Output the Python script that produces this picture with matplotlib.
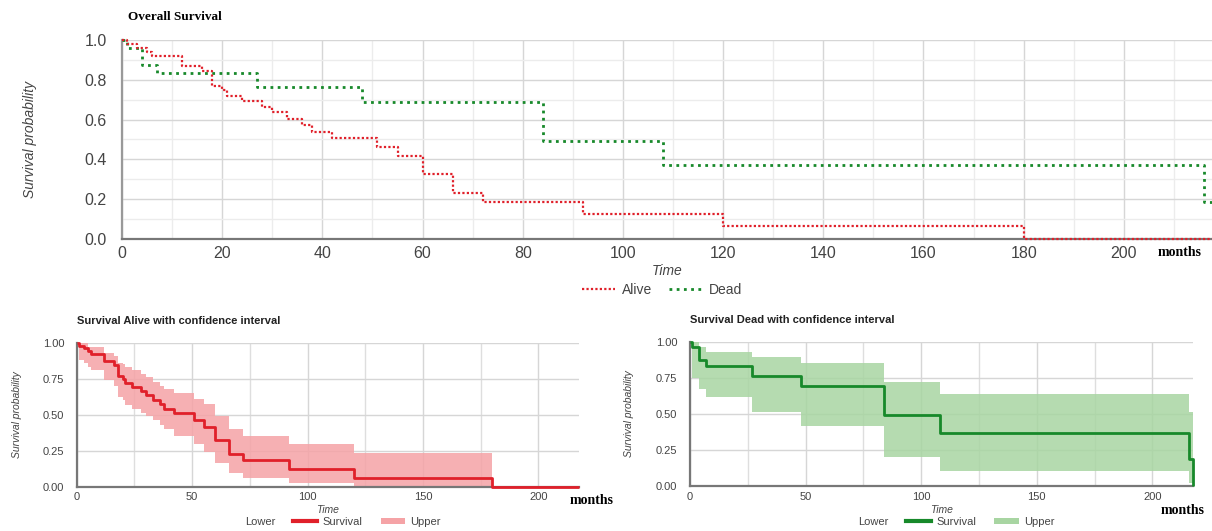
import numpy as np
import matplotlib
matplotlib.use("Agg")
import matplotlib.pyplot as plt
from matplotlib.lines import Line2D
from matplotlib.patches import Patch

plt.rcParams['font.family'] = ['Liberation Sans', 'DejaVu Sans']

# Kaplan-Meier steps (months, survival)
alive_time = [0, 1, 3, 5, 6, 12, 16, 18, 20, 21, 24, 28, 30, 33, 36, 38, 42, 51, 55, 60, 66, 72, 92, 120, 180]
alive_surv = [1.0, 0.98, 0.96, 0.94, 0.92, 0.87, 0.845, 0.77, 0.75, 0.72, 0.695, 0.665, 0.64, 0.605,
              0.575, 0.54, 0.51, 0.46, 0.415, 0.325, 0.23, 0.185, 0.125, 0.063, 0.0]
alive_upper = [1.0, 1.0, 1.0, 0.97, 0.97, 0.93, 0.91, 0.86, 0.85, 0.83, 0.81, 0.78, 0.76, 0.73,
               0.70, 0.68, 0.648, 0.61, 0.575, 0.49, 0.40, 0.354, 0.294, 0.232, 0.0]
alive_lower = [1.0, 0.88, 0.86, 0.83, 0.81, 0.74, 0.70, 0.62, 0.60, 0.57, 0.54, 0.51, 0.49, 0.46,
               0.43, 0.40, 0.35, 0.294, 0.243, 0.162, 0.093, 0.063, 0.023, 0.0, 0.0]

dead_time = [0, 1, 4, 7, 27, 48, 84, 108, 216, 217.5]
dead_surv = [1.0, 0.96, 0.875, 0.835, 0.765, 0.69, 0.49, 0.37, 0.185, 0.0]
dead_upper = [1.0, 1.0, 0.96, 0.93, 0.896, 0.85, 0.723, 0.637, 0.515, 0.0]
dead_lower = [1.0, 0.75, 0.67, 0.62, 0.51, 0.418, 0.203, 0.104, 0.02, 0.0]

x_end = 217.6
red = '#e0202a'
green = '#17892a'
pink = '#f5a3a6'
lgreen = '#a8d5a2'
tick_col = '#444444'

fig = plt.figure(figsize=(12.12, 5.31), dpi=100)
W, H = 1212.0, 531.0

def px_axes(l, t, r, b):
    return fig.add_axes([l / W, 1 - b / H, (r - l) / W, (b - t) / H])

def style(ax, xmajor, xminor, ymajor, yminor, size, pad_y, pad_x):
    ax.set_xticks(xmajor)
    ax.set_xticks(xminor, minor=True)
    ax.set_yticks(ymajor)
    if yminor is not None:
        ax.set_yticks(yminor, minor=True)
    ax.grid(True, which='major', color='#d6d6d6', lw=1)
    ax.grid(True, which='minor', color='#ececec', lw=1)
    ax.set_axisbelow(True)
    for s in ['top', 'right']:
        ax.spines[s].set_visible(False)
    for s in ['left', 'bottom']:
        ax.spines[s].set_color('#777777')
        ax.spines[s].set_linewidth(1.6)
    ax.tick_params(which='both', length=0, labelsize=size, colors=tick_col)
    ax.tick_params(axis='y', pad=pad_y)
    ax.tick_params(axis='x', pad=pad_x)

# ---- top: overall survival ----
ax = px_axes(122, 40, 1212, 239)
ax.step(dead_time[:-1] + [x_end], dead_surv[:-1] + [dead_surv[-2]], where='post',
        color=green, lw=2, ls=(0, (1, 1.6)), clip_on=False, zorder=4)
ax.step(alive_time + [x_end], alive_surv + [alive_surv[-1]], where='post',
        color=red, lw=1.6, ls=(0, (1, 1)), clip_on=False, zorder=4)
ax.set_xlim(0, x_end)
ax.set_ylim(0, 1.0)
style(ax, np.arange(0, 201, 20), np.arange(10, 220, 10), np.arange(0, 1.01, 0.2),
      np.arange(0.1, 1.0, 0.2), 11.5, 11, 5)
ax.yaxis.set_major_formatter(matplotlib.ticker.FormatStrFormatter('%.1f'))
ax.spines['left'].set_color('#999999')
ax.set_ylabel('Survival probability', style='italic', fontsize=10, color=tick_col)
ax.yaxis.set_label_coords(-0.078, 0.5)
fig.text(128 / W, 1 - 17 / H, 'Overall Survival', family='Liberation Serif', weight='bold',
         fontsize=9.5, va='center', ha='left')
fig.text(667 / W, 1 - 271 / H, 'Time', style='italic', fontsize=10, color=tick_col,
         ha='center', va='center')
fig.text(1180 / W, 1 - 252 / H, 'months', family='Liberation Serif', weight='bold',
         fontsize=10, ha='center', va='center')
top_handles = [Line2D([], [], color=red, lw=1.6, ls=(0, (1, 1))),
               Line2D([], [], color=green, lw=2, ls=(0, (1, 1.6)))]
fig.legend(top_handles, ['Alive', 'Dead'], loc='center', ncol=2, frameon=False,
           bbox_to_anchor=(662 / W, 1 - 290 / H), fontsize=10, handlelength=2.4,
           columnspacing=1.2, handletextpad=0.5, labelcolor=tick_col)

# ---- bottom panels ----
def bottom_panel(box, t, s, lo, hi, line_col, band_col, title, months_xy, ylab_x):
    ax = px_axes(*box)
    ax.fill_between(t, lo, hi, step='post', color=band_col, lw=0, alpha=0.85)
    ax.step(t, s, where='post', color=line_col, lw=2, clip_on=False, zorder=4,
            solid_capstyle='butt')
    ax.set_xlim(0, x_end)
    ax.set_ylim(0, 1.0)
    style(ax, [0, 50, 100, 150, 200], [25, 75, 125, 175], [0, 0.25, 0.5, 0.75, 1.0],
          None, 8, 9, 4)
    ax.grid(True, which='minor', color='#dedede', lw=1)
    ax.yaxis.set_major_formatter(matplotlib.ticker.FormatStrFormatter('%.2f'))
    ax.set_ylabel('Survival probability', style='italic', fontsize=7.5, color=tick_col)
    ax.yaxis.set_label_coords(ylab_x, 0.5)
    l, tp, r, b = box
    fig.text(l / W, 1 - (tp - 22) / H, title, weight='bold', fontsize=8, ha='left',
             va='center', color='#222222')
    cx = (l + r) / 2
    fig.text(cx / W, 1 - 510 / H, 'Time', style='italic', fontsize=7.5, color=tick_col,
             ha='center', va='center')
    fig.text(months_xy[0] / W, 1 - months_xy[1] / H, 'months', family='Liberation Serif',
             weight='bold', fontsize=10, ha='center', va='center')
    handles = [Patch(facecolor='none', edgecolor='none'),
               Line2D([], [], color=line_col, lw=3),
               Patch(facecolor=band_col, edgecolor='none')]
    fig.legend(handles, ['Lower', 'Survival', 'Upper'], loc='center', ncol=3, frameon=False,
               bbox_to_anchor=(cx / W, 1 - 522 / H), fontsize=8, handlelength=2.2,
               handleheight=0.5, columnspacing=1.6, handletextpad=0.5, labelcolor=tick_col)
    return ax

bottom_panel((76.7, 342.7, 579, 486.7), alive_time + [x_end], alive_surv + [0.0],
             alive_lower + [0.0], alive_upper + [0.0], red, pink,
             'Survival Alive with confidence interval', (592, 500), -0.109)
bottom_panel((690, 341.7, 1193, 486), dead_time, dead_surv, dead_lower, dead_upper,
             green, lgreen, 'Survival Dead with confidence interval', (1183, 511), -0.111)

fig.savefig('out.png', dpi=100)
